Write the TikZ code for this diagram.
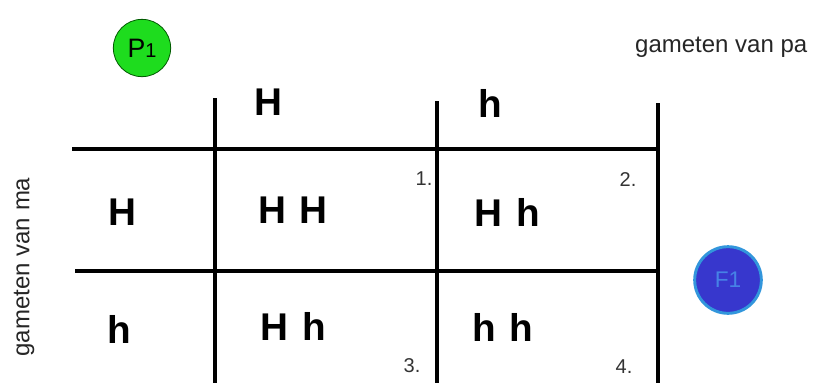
\documentclass[tikz,border=0pt]{standalone}
\usepackage{fontspec}
\setmainfont{Liberation Sans}
\definecolor{pgreen}{RGB}{30,220,30}
\definecolor{fblue}{RGB}{55,55,205}
\definecolor{fring}{RGB}{50,150,220}
\definecolor{ftext}{RGB}{70,130,230}
\newcommand{\geno}[2]{#1\hspace{0.36em}#2}
\begin{document}
\begin{tikzpicture}[x=0.75pt,y=-0.75pt,
    gridline/.style={line width=2.7pt,black},
    allele/.style={font=\bfseries\fontsize{29}{32}\selectfont},
    cellnum/.style={font=\fontsize{15}{17}\selectfont,text=black!80},
    caption/.style={font=\fontsize{18}{20}\selectfont,text=black!85}]
    \useasboundingbox (0,0) rectangle (815,383);

    % Grid
    \draw[gridline] (215,98) -- (215,383);
    \draw[gridline] (437,101) -- (437,383);
    \draw[gridline] (658,103) -- (658,383);
    \draw[gridline] (72,149) -- (658,149);
    \draw[gridline] (75,271) -- (658,271);

    % Parents
    \node[circle,draw=green!35!black,fill=pgreen,line width=0.6pt,
          minimum size=43pt,inner sep=0pt] (p1) at (142,48)
          {\fontsize{20}{21}\selectfont P\fontsize{15}{16}\selectfont 1};
    \node[caption,anchor=base east] (pa) at (812,52) {gameten van pa};
    \node[caption,rotate=90] (ma) at (24,267) {gameten van ma};

    % Gametes
    \node[allele] (colH) at (268,102) {H};
    \node[allele] (colh) at (490,103) {h};
    \node[allele] (rowH) at (122,212) {H};
    \node[allele] (rowh) at (119,329) {h};

    % Offspring
    \node[allele] (c1) at (293,210) {\geno{H}{H}};
    \node[allele] (c2) at (507,212) {\geno{H}{h}};
    \node[allele] (c3) at (293,326) {\geno{H}{h}};
    \node[allele] (c4) at (503,327) {\geno{h}{h}};
    \node[cellnum] (n1) at (424,179) {1.};
    \node[cellnum] (n2) at (628,180) {2.};
    \node[cellnum] (n3) at (412,366) {3.};
    \node[cellnum] (n4) at (624,367) {4.};

    % F1
    \node[circle,draw=fring,fill=fblue,line width=2.2pt,
          minimum size=50pt,inner sep=0pt,text=ftext,
          font=\fontsize{17}{19}\selectfont] (f1) at (728,280) {F1};
\end{tikzpicture}
\end{document}
